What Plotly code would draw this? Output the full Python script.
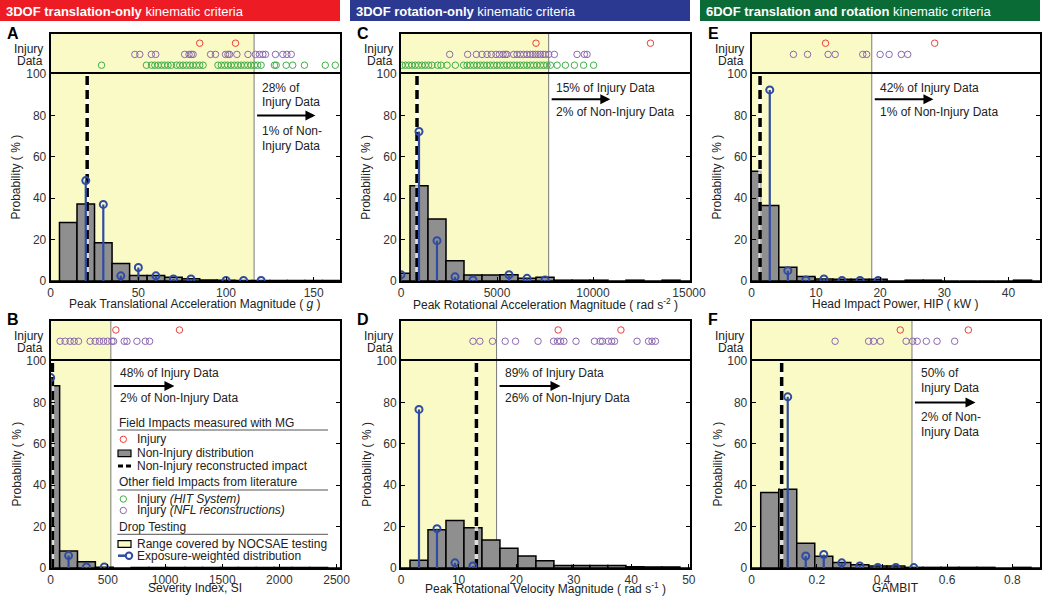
import plotly.graph_objects as go

W, H = 1050, 597
FONT = "Liberation Sans, Arial, sans-serif"


def px(x):
    return x / W


def py(y):
    return 1 - y / H


# ---------------- DATA ----------------
# Panel A : Peak translational acceleration (g)
A_bin_centers = [0, 10, 20, 30, 40, 50, 60, 70, 80, 90, 100, 110, 120, 130, 140, 150, 160]
A_hist = [0, 28.3, 37.2, 18.5, 8.5, 2.7, 2.7, 1.8, 1.1, 0.5, 0.4, 0.3, 0.3, 0.3, 0.3, 0.3, 0.3]
A_stem_x = [20, 30, 40, 50, 60, 70, 80, 100, 110, 120]
A_stem_y = [48.5, 37, 2.5, 6.5, 2.5, 1, 1, 0.3, 0.3, 0.3]
A_recon = 20.8
A_nocsae = 116
A_injury_mg = [85, 105.4]
A_injury_nfl = [48, 50.8, 57.4, 59.9, 76.4, 78.9, 80.2, 81.2, 91.2, 94, 99.7, 101.1, 102,
                106.2, 112.5, 116.8, 119.1, 121, 122.5, 128.2, 132.4, 134.7, 137.2]
A_injury_hit = [29, 54.6, 57.5, 59.4, 61.3, 63.2, 65, 66.9, 68.8, 71.7, 73.6, 75.5, 77.4, 79.3,
                81.2, 83.1, 85, 86.9, 95.4, 97.3, 99.2, 101, 102.9, 104.8, 106.7, 108.6, 110.5,
                112.4, 114.3, 116.2, 118, 120, 127.6, 128.6, 134.3, 138, 144.7, 156.6, 162.3]
A_ticks = [0, 50, 100, 150]
A_tick_text = ["0", "50", "100", "150"]

# Panel B : Severity Index
B_bin_centers = [0, 156.25, 312.5, 468.75, 625, 781.25, 937.5, 1093.75, 1250, 1406.25, 1562.5,
                 1718.75, 1875, 2031.25, 2187.5, 2343.75, 2500]
B_hist = [88, 8.2, 3, 0.4, 0, 0.3, 0.3, 0.3, 0.3, 0.3, 0.3, 0.3, 0.3, 0.3, 0.3, 0.3, 0]
B_stem_x = [0, 156.25, 312.5, 468.75]
B_stem_y = [92, 6, 0.5, 0.5]
B_recon = 15
B_nocsae = 526
B_injury_mg = [570, 1126]
B_injury_nfl = [82, 126, 170, 205, 243, 345, 389, 427, 462, 497, 535, 550, 643, 667, 754, 827, 865]
B_injury_hit = []
B_ticks = [0, 500, 1000, 1500, 2000, 2500]
B_tick_text = ["0", "500", "1000", "1500", "2000", "2500"]

# Panel C : Peak rotational acceleration (rad/s^2)
C_bin_centers = [0, 937.5, 1875, 2812.5, 3750, 4687.5, 5625, 6562.5, 7500, 8437.5, 9375,
                 10312.5, 11250, 12187.5, 13125, 14062.5, 15000]
C_hist = [3.7, 46, 30, 9.8, 2.9, 2.9, 3.0, 1.3, 1.8, 0.4, 0.4, 0.4, 0, 0.4, 0, 0.4, 0]
C_stem_x = [0, 937.5, 1875, 2812.5, 3750, 5625, 6562.5, 7500]
C_stem_y = [3, 72.2, 19.5, 2, 0.5, 3, 1.3, 0.5]
C_recon = 833
C_nocsae = 7690
C_injury_mg = [7030, 12990]
C_injury_nfl = [2535, 3472, 3924, 4219, 4479, 4705, 4948, 5122, 5313, 5434, 5521, 5868, 6042,
                6215, 6389, 6562, 6736, 6875, 6997, 7135, 7257, 7396, 7517, 7691, 7986, 9167,
                9549, 9688]
C_injury_hit = [50, 230, 400, 570, 740, 910, 1090, 1260, 1440, 1610, 1910, 2080, 2400, 2830,
                3260, 3440, 3610, 3790, 3960, 4130, 4310, 4480, 4650, 4830, 5000, 5170, 5350,
                5520, 5690, 5870, 6040, 6210, 6390, 6560, 6740, 6910, 7080, 7260, 7430, 7600,
                7780, 8130, 8560, 9030, 9510, 10030]
C_ticks = [0, 5000, 10000, 15000]
C_tick_text = ["0", "5000", "10000", "15000"]

# Panel D : Peak rotational velocity (rad/s)
D_bin_centers = [0, 3.125, 6.25, 9.375, 12.5, 15.625, 18.75, 21.875, 25, 28.125, 31.25, 34.375,
                 37.5, 40.625, 43.75, 46.875, 50]
D_hist = [0, 3.7, 18.5, 23, 19.5, 13.5, 9.5, 5.8, 3.5, 1.2, 1.2, 1.2, 1.2, 0.6, 0.5, 0.5, 0]
D_stem_x = [3.125, 6.25, 9.375, 12.5]
D_stem_y = [76.6, 19, 2.5, 1]
D_recon = 13.1
D_nocsae = 16.6
D_injury_mg = [27.3, 38.2]
D_injury_nfl = [12.5, 13.7, 15.9, 18.1, 19.9, 23.8, 26.5, 27.2, 27.7, 28.3, 30.4, 33.6, 34.6,
                35.0, 36.0, 36.6, 37.1, 41.0, 43.0, 43.6, 44.2]
D_injury_hit = []
D_ticks = [0, 10, 20, 30, 40, 50]
D_tick_text = ["0", "10", "20", "30", "40", "50"]

# Panel E : Head impact power (kW)
E_bin_centers = [0, 2.8125, 5.625, 8.4375, 11.25, 14.0625, 16.875, 19.6875, 22.5, 25.3125,
                 28.125, 30.9375, 33.75, 36.5625, 39.375, 42.1875, 45]
E_hist = [53, 36.5, 6.7, 2.2, 1, 0.8, 0.8, 0.8, 0, 0.4, 0.4, 0, 0, 0, 0, 0.4, 0]
E_stem_x = [2.8125, 5.625, 8.4375, 11.25, 14.0625, 16.875, 19.6875]
E_stem_y = [92.3, 5, 0.5, 1, 0.3, 0.3, 0.3]
E_recon = 1.3
E_nocsae = 18.7
E_injury_mg = [11.5, 28.5]
E_injury_nfl = [6.5, 8.7, 11.9, 13.0, 17.3, 17.9, 20.0, 21.4, 23.3, 24.3]
E_injury_hit = []
E_ticks = [0, 10, 20, 30, 40]
E_tick_text = ["0", "10", "20", "30", "40"]

# Panel F : GAMBIT
F_bin_centers = [0, 0.0553, 0.1106, 0.1659, 0.2212, 0.2765, 0.3318, 0.3871, 0.4424, 0.4977,
                 0.553, 0.6083, 0.6636, 0.7189, 0.7742, 0.8295, 0.8848]
F_hist = [0, 36.5, 38, 12, 5.7, 2.6, 1.6, 1, 1, 0.3, 0.3, 0.3, 0.3, 0.3, 0, 0.3, 0]
F_stem_x = [0.1106, 0.1659, 0.2212, 0.2765, 0.3318, 0.3871, 0.4424, 0.4977]
F_stem_y = [82.7, 5.8, 6.5, 2.5, 1, 0.3, 0.3, 0.2]
F_recon = 0.092
F_nocsae = 0.492
F_injury_mg = [0.456, 0.665]
F_injury_nfl = [0.256, 0.359, 0.374, 0.395, 0.474, 0.494, 0.508, 0.536, 0.569, 0.623]
F_injury_hit = []
F_ticks = [0, 0.2, 0.4, 0.6, 0.8]
F_tick_text = ["0", "0.2", "0.4", "0.6", "0.8"]

prob_ticks = [0, 20, 40, 60, 80, 100]

# ---------------- STYLE / LAYOUT ----------------
YELLOW = "#FAFAC6"
GRAY = "#8F8F8F"
BLUE = "#2F4BA3"
RED = "#E8403A"
PURPLE = "#8B67B0"
GREEN = "#41AD49"
TXT = "#222222"

cols_x = {0: (50.7, 340), 1: (401, 690), 2: (751.7, 1040)}
rows_y = {0: dict(strip=(34, 74), main=(74, 281), title=303.5),
          1: dict(strip=(320.7, 361), main=(361, 568), title=588)}

panels = [
    dict(letter="A", col=0, row=0, xr=[0, 165], bw=10, c=A_bin_centers, h=A_hist, sx=A_stem_x, sy=A_stem_y,
         recon=A_recon, noc=A_nocsae, mg=A_injury_mg, nfl=A_injury_nfl, hit=A_injury_hit,
         tv=A_ticks, tt=A_tick_text, arrow=(80, 151), tx=119.5,
         texts=[("28% of", 93.4), ("Injury Data", 86.6), ("1% of Non-", 72.5), ("Injury Data", 65.4)],
         title="Peak Translational Acceleration Magnitude ( <i>g</i> )"),
    dict(letter="B", col=0, row=1, xr=[0, 2530], bw=156.25, c=B_bin_centers, h=B_hist, sx=B_stem_x, sy=B_stem_y,
         recon=B_recon, noc=B_nocsae, mg=B_injury_mg, nfl=B_injury_nfl, hit=B_injury_hit,
         tv=B_ticks, tt=B_tick_text, arrow=(87.9, 1082), tx=585,
         texts=[("48% of Injury Data", 94.4), ("2% of Non-Injury Data", 81.9)],
         title="Severity Index, SI"),
    dict(letter="C", col=1, row=0, xr=[0, 15050], bw=937.5, c=C_bin_centers, h=C_hist, sx=C_stem_x, sy=C_stem_y,
         recon=C_recon, noc=C_nocsae, mg=C_injury_mg, nfl=C_injury_nfl, hit=C_injury_hit,
         tv=C_ticks, tt=C_tick_text, arrow=(87.8, 10900), tx=7986,
         texts=[("15% of Injury Data", 93.4), ("2% of Non-Injury Data", 81.8)],
         title="Peak Rotational Acceleration Magnitude ( rad s<sup>-2</sup> )"),
    dict(letter="D", col=1, row=1, xr=[0, 50.2], bw=3.125, c=D_bin_centers, h=D_hist, sx=D_stem_x, sy=D_stem_y,
         recon=D_recon, noc=D_nocsae, mg=D_injury_mg, nfl=D_injury_nfl, hit=D_injury_hit,
         tv=D_ticks, tt=D_tick_text, arrow=(87.9, 27.7), tx=17.7,
         texts=[("89% of Injury Data", 94.4), ("26% of Non-Injury Data", 81.9)],
         title="Peak Rotational Velocity Magnitude ( rad s<sup>-1</sup> )"),
    dict(letter="E", col=2, row=0, xr=[0, 44.9], bw=2.8125, c=E_bin_centers, h=E_hist, sx=E_stem_x, sy=E_stem_y,
         recon=E_recon, noc=E_nocsae, mg=E_injury_mg, nfl=E_injury_nfl, hit=E_injury_hit,
         tv=E_ticks, tt=E_tick_text, arrow=(87.8, 28.3), tx=19.7,
         texts=[("42% of Injury Data", 93.4), ("1% of Non-Injury Data", 81.8)],
         title="Head Impact Power, HIP ( kW )"),
    dict(letter="F", col=2, row=1, xr=[0, 0.885], bw=0.0553, c=F_bin_centers, h=F_hist, sx=F_stem_x, sy=F_stem_y,
         recon=F_recon, noc=F_nocsae, mg=F_injury_mg, nfl=F_injury_nfl, hit=F_injury_hit,
         tv=F_ticks, tt=F_tick_text, arrow=(80, 0.687), tx=0.513,
         texts=[("50% of", 94.4), ("Injury Data", 86.8), ("2% of Non-", 73), ("Injury Data", 65.8)],
         title="GAMBIT"),
]

fig = go.Figure()
layout = {}
shapes = []
annotations = []

for i, p in enumerate(panels):
    n = i + 1
    s = i + 7
    xn = "x" if n == 1 else f"x{n}"
    yn = "y" if n == 1 else f"y{n}"
    xs, ys = f"x{s}", f"y{s}"
    xk = "xaxis" if n == 1 else f"xaxis{n}"
    yk = "yaxis" if n == 1 else f"yaxis{n}"
    x0p, x1p = cols_x[p["col"]]
    st = rows_y[p["row"]]["strip"]
    mn = rows_y[p["row"]]["main"]

    layout[xk] = dict(domain=[px(x0p), px(x1p)], range=p["xr"], anchor=yn,
                      tickvals=p["tv"], ticktext=p["tt"], ticks="inside", ticklen=4,
                      tickcolor="black", tickwidth=1, showline=True, linecolor="black",
                      linewidth=2, mirror=True, showgrid=False, zeroline=False,
                      tickfont=dict(size=12, color="#333", family=FONT), automargin=False)
    layout[yk] = dict(domain=[py(mn[1]), py(mn[0])], range=[0, 100], anchor=xn,
                      tickvals=prob_ticks, ticks="inside", ticklen=4, tickcolor="black",
                      tickwidth=1, showline=True, linecolor="black", linewidth=2,
                      mirror="ticks", showgrid=False, zeroline=False,
                      tickfont=dict(size=12, color="#333", family=FONT), automargin=False)
    # strip: only top line on x (the separator is drawn by the main panel's mirror line)
    layout[f"xaxis{s}"] = dict(domain=[px(x0p), px(x1p)], range=p["xr"], anchor=ys, side="top",
                               showticklabels=False, ticks="", showline=True, linecolor="black",
                               linewidth=2, mirror=False, showgrid=False, zeroline=False)
    layout[f"yaxis{s}"] = dict(domain=[py(st[1]), py(st[0])], range=[0, 1], anchor=xs,
                               showticklabels=False, ticks="", showline=True, linecolor="black",
                               linewidth=2, mirror=True, showgrid=False, zeroline=False)

    # NOCSAE range (yellow) in both strip and main
    for xa, ya in ((xn, yn), (xs, ys)):
        shapes.append(dict(type="rect", xref=xa, yref=f"{ya} domain", x0=0, x1=p["noc"], y0=0, y1=1,
                           fillcolor=YELLOW, line=dict(width=0), layer="below"))
        shapes.append(dict(type="line", xref=xa, yref=f"{ya} domain", x0=p["noc"], x1=p["noc"], y0=0, y1=1,
                           line=dict(color="#7a7a7a", width=1), layer="below"))

    # Non-injury distribution
    fig.add_trace(go.Bar(x=p["c"], y=p["h"], width=p["bw"], xaxis=xn, yaxis=yn,
                         marker=dict(color=GRAY, line=dict(color="black", width=1.5)),
                         showlegend=False, hoverinfo="skip"))
    # Non-injury reconstructed impact (dashed)
    fig.add_trace(go.Scatter(x=[p["recon"], p["recon"]], y=[0, 100], mode="lines", xaxis=xn, yaxis=yn,
                             line=dict(color="rgba(255,255,255,0.7)", width=3.5),
                             showlegend=False, hoverinfo="skip"))
    fig.add_trace(go.Scatter(x=[p["recon"], p["recon"]], y=[0, 100], mode="lines", xaxis=xn, yaxis=yn,
                             line=dict(color="black", width=3.5, dash="9px,5px"),
                             showlegend=False, hoverinfo="skip"))
    # Exposure-weighted stems
    lx, ly = [], []
    for xv, yv in zip(p["sx"], p["sy"]):
        lx += [xv, xv, None]
        ly += [0, yv, None]
    fig.add_trace(go.Scatter(x=lx, y=ly, mode="lines", xaxis=xn, yaxis=yn,
                             line=dict(color=BLUE, width=2.2), showlegend=False, hoverinfo="skip"))
    fig.add_trace(go.Scatter(x=p["sx"], y=p["sy"], mode="markers", xaxis=xn, yaxis=yn,
                             marker=dict(symbol="circle-open", size=7, color=BLUE, line=dict(width=2)),
                             showlegend=False, hoverinfo="skip"))
    # Injury data strip
    for vals, col, yy in ((p["mg"], RED, 0.77), (p["nfl"], PURPLE, 0.49), (p["hit"], GREEN, 0.22)):
        if vals:
            fig.add_trace(go.Scatter(x=vals, y=[yy] * len(vals), mode="markers", xaxis=xs, yaxis=ys,
                                     marker=dict(symbol="circle-open", size=6.5, color=col,
                                                 line=dict(width=1)),
                                     showlegend=False, hoverinfo="skip"))

    # arrow
    ay, ax_end = p["arrow"]
    annotations.append(dict(x=ax_end, y=ay, ax=p["noc"], ay=ay, xref=xn, yref=yn, axref=xn, ayref=yn,
                            showarrow=True, arrowhead=2, arrowsize=1, arrowwidth=2, arrowcolor="black",
                            text=" "))
    for t, ty in p["texts"]:
        annotations.append(dict(x=p["tx"], y=ty, xref=xn, yref=yn, text=t, showarrow=False,
                                xanchor="left", yanchor="middle", font=dict(size=12, color=TXT)))

    # labels
    off = x0p - 50.7
    annotations.append(dict(x=px(45 + off), y=py(st[0] + 15), xref="paper", yref="paper", text="Injury",
                            showarrow=False, xanchor="right", yanchor="middle", font=dict(size=12, color=TXT)))
    annotations.append(dict(x=px(45 + off), y=py(st[0] + 27), xref="paper", yref="paper", text="Data",
                            showarrow=False, xanchor="right", yanchor="middle", font=dict(size=12, color=TXT)))
    annotations.append(dict(x=px(16 + off), y=py((mn[0] + mn[1]) / 2), xref="paper", yref="paper",
                            text="Probability ( % )", textangle=-90, showarrow=False,
                            xanchor="center", yanchor="middle", font=dict(size=12, color=TXT)))
    annotations.append(dict(x=px((x0p + x1p) / 2), y=py(rows_y[p["row"]]["title"]), xref="paper", yref="paper",
                            text=p["title"], showarrow=False, xanchor="center", yanchor="middle",
                            font=dict(size=12, color=TXT)))
    annotations.append(dict(x=px(5 + off), y=py(st[0] - 1), xref="paper", yref="paper",
                            text=f"<b>{p['letter']}</b>", showarrow=False, xanchor="left", yanchor="middle",
                            font=dict(size=16, color="black")))

# header banners
banners = [(0, 340, "#ED1C24", "<b>3DOF translation-only</b> kinematic criteria"),
           (350, 690, "#2B3990", "<b>3DOF rotation-only</b> kinematic criteria"),
           (700, 1040, "#0B6B37", "<b>6DOF translation and rotation</b> kinematic criteria")]
for x0, x1, col, txt in banners:
    shapes.append(dict(type="rect", xref="paper", yref="paper", x0=px(x0), x1=px(x1), y0=py(21), y1=py(0),
                       fillcolor=col, line=dict(width=0), layer="above"))
    annotations.append(dict(x=px(x0 + 4), y=py(11), xref="paper", yref="paper", text=txt, showarrow=False,
                            xanchor="left", yanchor="middle", font=dict(size=13, color="white")))

# custom legend inside panel B
LX = 117.3
LT = 135


def leg_text(t, y, x=LT):
    annotations.append(dict(x=px(x), y=py(y), xref="paper", yref="paper", text=t, showarrow=False,
                            xanchor="left", yanchor="middle", font=dict(size=12, color=TXT)))


def leg_line(y):
    shapes.append(dict(type="line", xref="paper", yref="paper", x0=px(LX), x1=px(328), y0=py(y), y1=py(y),
                       line=dict(color="#555", width=1), layer="above"))


def leg_circle(cx, cy, r, col, w=1):
    shapes.append(dict(type="circle", xref="paper", yref="paper", x0=px(cx - r), x1=px(cx + r),
                       y0=py(cy + r), y1=py(cy - r), line=dict(color=col, width=w), layer="above"))


leg_text("Field Impacts measured with MG", 422.7, LX)
leg_line(430)
leg_circle(123.3, 439.3, 3.2, RED)
leg_text("Injury", 439.3)
shapes.append(dict(type="rect", xref="paper", yref="paper", x0=px(118), x1=px(131), y0=py(456.7), y1=py(450),
                   fillcolor=GRAY, line=dict(color="black", width=1.2), layer="above"))
leg_text("Non-Injury distribution", 453)
shapes.append(dict(type="line", xref="paper", yref="paper", x0=px(118), x1=px(131.5), y0=py(466), y1=py(466),
                   line=dict(color="black", width=3, dash="5px,3px"), layer="above"))
leg_text("Non-Injury reconstructed impact", 466)
leg_text("Other field Impacts from literature", 482.3, LX)
leg_line(490)
leg_circle(123.3, 499, 3.2, GREEN)
leg_text("Injury <i>(HIT System)</i>", 499)
leg_circle(123.3, 510.5, 3.2, PURPLE)
leg_text("Injury <i>(NFL reconstructions)</i>", 510.5)
leg_text("Drop Testing", 526.7, LX)
leg_line(534.3)
shapes.append(dict(type="rect", xref="paper", yref="paper", x0=px(118), x1=px(131), y0=py(547.3), y1=py(540.7),
                   fillcolor=YELLOW, line=dict(color="black", width=1.2), layer="above"))
leg_text("Range covered by NOCSAE testing", 543.5)
shapes.append(dict(type="line", xref="paper", yref="paper", x0=px(118), x1=px(126), y0=py(555.7), y1=py(555.7),
                   line=dict(color=BLUE, width=2.5), layer="above"))
leg_circle(129, 555.7, 3.2, BLUE, 2)
leg_text("Exposure-weighted distribution", 555.7)

fig.update_layout(
    width=W, height=H, margin=dict(l=0, r=0, t=0, b=0),
    paper_bgcolor="white", plot_bgcolor="white",
    font=dict(family=FONT, size=12, color=TXT),
    showlegend=False, barmode="overlay",
    shapes=shapes, annotations=annotations,
    **layout,
)

fig.write_html("out.html", config={"displayModeBar": False},
               post_script="document.body.style.margin='0';document.body.style.overflow='hidden';")
